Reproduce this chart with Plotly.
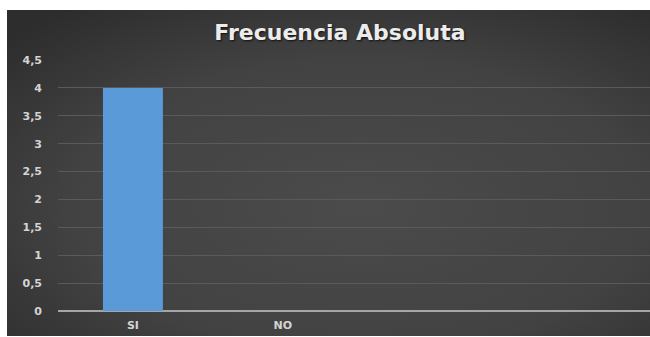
import base64
import plotly.graph_objects as go

categories = ["SI", "NO"]
values = [4, 0]
y_ticks = [0, 0.5, 1, 1.5, 2, 2.5, 3, 3.5, 4, 4.5]

x_pos = list(range(len(categories)))

fig = go.Figure()
fig.add_trace(go.Bar(
    x=x_pos, y=values, width=0.4,
    marker=dict(color="#5a9ad8", line=dict(width=0)),
))

W, H = 650, 337
L, R, T, B = 58, 0, 60, 26
pw = W - L - R
ph = H - T - B

def px_x(p):
    return (p - L) / pw

def px_y(p):
    return (H - B - p) / ph

svg = (
    '<svg xmlns="http://www.w3.org/2000/svg" width="643" height="326" preserveAspectRatio="none">'
    '<defs><radialGradient id="g" cx="0.55" cy="0.6" r="0.75">'
    '<stop offset="0" stop-color="#4b4b4b"/>'
    '<stop offset="0.6" stop-color="#424242"/>'
    '<stop offset="1" stop-color="#2d2d2d"/>'
    '</radialGradient></defs>'
    '<rect width="643" height="326" fill="url(#g)"/></svg>'
)
src = "data:image/svg+xml;base64," + base64.b64encode(svg.encode()).decode()

tick_font = dict(family="DejaVu Sans", size=11, weight="bold", color="#d4d4d4")

fig.update_layout(
    width=W, height=H,
    margin=dict(l=L, r=R, t=T, b=B, pad=0),
    paper_bgcolor="white",
    plot_bgcolor="rgba(0,0,0,0)",
    separators=",.",
    showlegend=False,
    images=[dict(source=src, xref="paper", yref="paper",
                 x=px_x(7), y=px_y(10), sizex=px_x(650) - px_x(7),
                 sizey=px_y(10) - px_y(336), xanchor="left", yanchor="top",
                 sizing="stretch", layer="below")],
    title=dict(text="<b>Frecuencia Absoluta</b>", x=340 / W, xanchor="center",
               y=1 - 32 / H, yanchor="middle", xref="container",
               font=dict(family="DejaVu Sans", size=22, color="#ececec",
                         shadow="1px 1px 2px #111")),
    xaxis=dict(
        range=[-0.5, 3.45], tickvals=x_pos, ticktext=categories,
        showgrid=False, zeroline=False, showline=False, ticks="",
        ticklabelstandoff=6, tickfont=tick_font, fixedrange=True,
    ),
    yaxis=dict(
        range=[0, 4.5], tickvals=y_ticks, showgrid=True, gridcolor="#5a5a5a",
        gridwidth=1, zeroline=True, zerolinecolor="#a6a6a6", zerolinewidth=1.5,
        showline=False, ticks="", ticklabelstandoff=15,
        tickfont=tick_font, fixedrange=True,
    ),
)

fig.write_html("out.html")
